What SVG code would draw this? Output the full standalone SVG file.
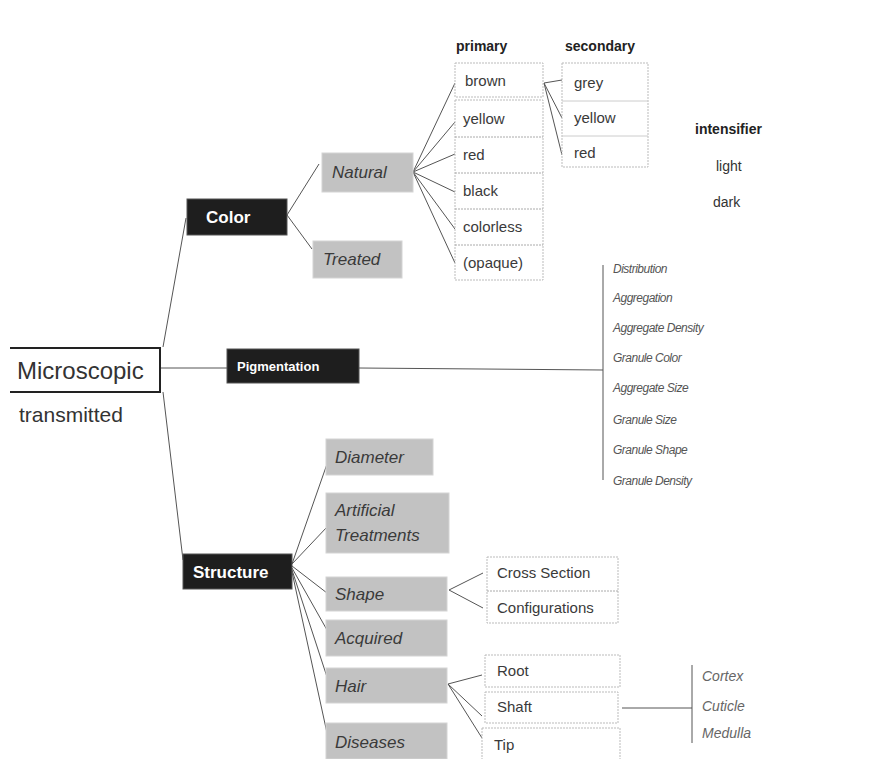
<svg xmlns="http://www.w3.org/2000/svg" width="869" height="759" viewBox="0 0 869 759">
<style>
text{font-family:"Liberation Sans",Arial,sans-serif;}
.dark{fill:#1e1e1e;stroke:#555;stroke-width:1;}
.dt{fill:#fff;font-weight:bold;font-size:17px;}
.gray{fill:#c2c2c2;stroke:#d4d4d4;stroke-width:1;}
.gt{fill:#3a3a3a;font-style:italic;font-size:17px;}
.lbox{fill:#fff;stroke:#bbb;stroke-width:1;stroke-dasharray:2 1;}
.lt{fill:#3a3a3a;font-size:15px;}
.hd{fill:#222;font-weight:bold;font-size:14px;}
.pi{fill:#555;font-style:italic;font-size:12px;letter-spacing:-0.5px;}
.ci{fill:#666;font-style:italic;font-size:14px;}
.ln{stroke:#555;stroke-width:1;fill:none;}
</style>
<rect width="869" height="759" fill="#fff"/>
<g id="connectors">
<polyline class="ln" points="186,218 163,347"/>
<polyline class="ln" points="183,560 163,392"/>
<line class="ln" x1="160" y1="368" x2="228" y2="368"/>
<line class="ln" x1="287" y1="215" x2="319" y2="164"/>
<line class="ln" x1="287" y1="215" x2="312" y2="249"/>
<line class="ln" x1="413" y1="172" x2="455" y2="83"/>
<line class="ln" x1="413" y1="172" x2="455" y2="122"/>
<line class="ln" x1="413" y1="172" x2="455" y2="154"/>
<line class="ln" x1="413" y1="172" x2="455" y2="192"/>
<line class="ln" x1="413" y1="172" x2="455" y2="229"/>
<line class="ln" x1="413" y1="172" x2="455" y2="263"/>
<line class="ln" x1="544" y1="83" x2="562" y2="80"/>
<line class="ln" x1="544" y1="83" x2="562" y2="118"/>
<line class="ln" x1="544" y1="83" x2="562" y2="155"/>
<line class="ln" x1="359" y1="368" x2="603" y2="370"/>
<line class="ln" x1="603" y1="265" x2="603" y2="480"/>
<line class="ln" x1="292" y1="564" x2="327" y2="464"/>
<line class="ln" x1="292" y1="564" x2="327" y2="527"/>
<line class="ln" x1="292" y1="566" x2="327" y2="593"/>
<line class="ln" x1="292" y1="568" x2="327" y2="630"/>
<line class="ln" x1="292" y1="570" x2="327" y2="677"/>
<line class="ln" x1="292" y1="572" x2="327" y2="733"/>
<line class="ln" x1="449" y1="590" x2="483" y2="573"/>
<line class="ln" x1="449" y1="590" x2="483" y2="608"/>
<line class="ln" x1="448" y1="684" x2="482" y2="675"/>
<line class="ln" x1="448" y1="684" x2="482" y2="716"/>
<line class="ln" x1="448" y1="684" x2="482" y2="738"/>
<line class="ln" x1="622" y1="708" x2="692" y2="708"/>
<line class="ln" x1="692" y1="665" x2="692" y2="743"/>
</g>
<g id="microscopic">
<polyline points="10,348 160,348 160,392 10,392" fill="none" stroke="#222" stroke-width="2"/>
<text x="17" y="379" font-size="24" fill="#333">Microscopic</text>
<text x="19" y="422" font-size="21" fill="#333">transmitted</text>
</g>
<g id="color"><rect class="dark" x="187" y="199" width="100" height="36"/><text class="dt" x="206" y="223">Color</text></g>
<g id="natural"><rect class="gray" x="322" y="153" width="91" height="39"/><text class="gt" x="332" y="178">Natural</text></g>
<g id="treated"><rect class="gray" x="313" y="241" width="89" height="37"/><text class="gt" x="323" y="265">Treated</text></g>
<g id="primary">
<text class="hd" x="456" y="51">primary</text>
<rect class="lbox" x="455" y="63" width="88" height="34"/>
<text class="lt" x="465" y="86">brown</text>
<rect class="lbox" x="455" y="100" width="88" height="180"/>
<line x1="455" y1="137" x2="543" y2="137" stroke="#aaa" stroke-dasharray="2 1"/>
<line x1="455" y1="173" x2="543" y2="173" stroke="#aaa" stroke-dasharray="2 1"/>
<line x1="455" y1="209" x2="543" y2="209" stroke="#aaa" stroke-dasharray="2 1"/>
<line x1="455" y1="245" x2="543" y2="245" stroke="#aaa" stroke-dasharray="2 1"/>
<text class="lt" x="463" y="124">yellow</text>
<text class="lt" x="463" y="160">red</text>
<text class="lt" x="463" y="196">black</text>
<text class="lt" x="463" y="232">colorless</text>
<text class="lt" x="463" y="268">(opaque)</text>
</g>
<g id="secondary">
<text class="hd" x="565" y="51">secondary</text>
<rect class="lbox" x="562" y="63" width="86" height="104"/>
<line x1="562" y1="101" x2="648" y2="101" stroke="#ccc"/>
<line x1="562" y1="136" x2="648" y2="136" stroke="#ccc"/>
<text class="lt" x="574" y="88">grey</text>
<text class="lt" x="574" y="123">yellow</text>
<text class="lt" x="574" y="158">red</text>
</g>
<g id="intensifier">
<text class="hd" x="695" y="134">intensifier</text>
<text fill="#333" font-size="14" x="716" y="171">light</text>
<text fill="#333" font-size="14" x="713" y="207">dark</text>
</g>
<g id="pigmentation"><rect class="dark" x="227" y="349" width="132" height="34"/><text x="237" y="371" fill="#fff" font-weight="bold" font-size="13">Pigmentation</text></g>
<g id="pigment-items">
<text class="pi" x="613" y="273">Distribution</text>
<text class="pi" x="613" y="302">Aggregation</text>
<text class="pi" x="613" y="332">Aggregate Density</text>
<text class="pi" x="613" y="362">Granule Color</text>
<text class="pi" x="613" y="392">Aggregate Size</text>
<text class="pi" x="613" y="424">Granule Size</text>
<text class="pi" x="613" y="454">Granule Shape</text>
<text class="pi" x="613" y="485">Granule Density</text>
</g>
<g id="structure"><rect class="dark" x="183" y="554" width="109" height="35"/><text class="dt" x="193" y="578">Structure</text></g>
<g id="diameter"><rect class="gray" x="326" y="439" width="107" height="36"/><text class="gt" x="335" y="463">Diameter</text></g>
<g id="artificial"><rect class="gray" x="326" y="493" width="123" height="60"/><text class="gt" x="335" y="516">Artificial</text><text class="gt" x="335" y="541">Treatments</text></g>
<g id="shape"><rect class="gray" x="326" y="577" width="121" height="34"/><text class="gt" x="335" y="600">Shape</text></g>
<g id="acquired"><rect class="gray" x="326" y="620" width="121" height="36"/><text class="gt" x="335" y="644">Acquired</text></g>
<g id="hair"><rect class="gray" x="326" y="668" width="121" height="35"/><text class="gt" x="335" y="692">Hair</text></g>
<g id="diseases"><rect class="gray" x="326" y="723" width="121" height="36"/><text class="gt" x="335" y="748">Diseases</text></g>
<g id="shape-items">
<rect class="lbox" x="487" y="557" width="131" height="66"/>
<line x1="487" y1="591" x2="618" y2="591" stroke="#aaa" stroke-dasharray="2 1"/>
<text class="lt" x="497" y="578">Cross Section</text>
<text class="lt" x="497" y="613">Configurations</text>
</g>
<g id="root"><rect class="lbox" x="485" y="655" width="135" height="32"/><text class="lt" x="497" y="676">Root</text></g>
<g id="shaft"><rect class="lbox" x="485" y="692" width="133" height="31"/><text class="lt" x="497" y="712">Shaft</text></g>
<g id="tip"><rect class="lbox" x="482" y="728" width="138" height="40"/><text class="lt" x="494" y="750">Tip</text></g>
<g id="shaft-items">
<text class="ci" x="702" y="681">Cortex</text>
<text class="ci" x="702" y="711">Cuticle</text>
<text class="ci" x="702" y="738">Medulla</text>
</g>
</svg>
